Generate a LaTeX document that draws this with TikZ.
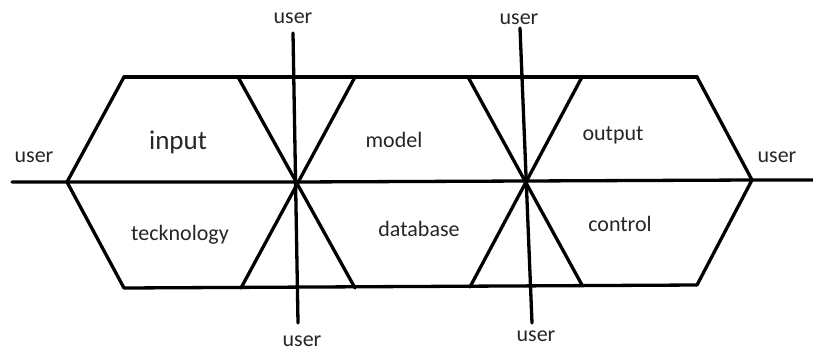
\documentclass[tikz,border=0pt]{standalone}
\usepackage{fontspec}
\setmainfont{Carlito}
\begin{document}
\begin{tikzpicture}[x=1pt,y=-1pt,
  edge/.style={line width=3.3pt, line cap=round, line join=miter},
  lbl/.style={inner sep=0pt, text=black!85, font=\fontsize{22}{24}\selectfont},
  big/.style={inner sep=0pt, text=black!85, font=\fontsize{27}{30}\selectfont}]
\useasboundingbox (0,0) rectangle (813,354);

% centre line and its crossing points
\coordinate (hl) at (12,182);
\coordinate (L)  at (67,182);
\coordinate (c1) at (296,182);
\coordinate (c2) at (525,181);
\coordinate (R)  at (752,180);
\coordinate (hr) at (813,180);

% upper and lower rails
\coordinate (t0) at (124,77);
\coordinate (t5) at (697,77);
\coordinate (b0) at (124,288);
\coordinate (b5) at (697,285);

% diagonals through the two crossings
\coordinate (x1a) at (238,77);  \coordinate (x1b) at (355,288);
\coordinate (x1c) at (241,288); \coordinate (x1d) at (355,77);
\coordinate (x2a) at (468,77);  \coordinate (x2b) at (582,285);
\coordinate (x2c) at (470,287); \coordinate (x2d) at (582,77);

% vertical user axes
\coordinate (v1a) at (293,33); \coordinate (v1b) at (298,323);
\coordinate (v2a) at (520,28); \coordinate (v2b) at (532,323);

\draw[edge] (hl) -- (L) -- (c1) -- (c2) -- (R) -- (hr);
\draw[edge] (t0) -- (t5);
\draw[edge] (b0) -- (b5);
\draw[edge] (t0) -- (L) -- (b0);
\draw[edge] (t5) -- (R) -- (b5);
\draw[edge] (x1a) -- (x1b);
\draw[edge] (x1c) -- (x1d);
\draw[edge] (x2a) -- (x2b);
\draw[edge] (x2c) -- (x2d);
\draw[edge] (v1a) -- (v1b);
\draw[edge] (v2a) -- (v2b);

% user labels
\node[lbl] (uL)  at (34,157)  {user};
\node[lbl] (uR)  at (777,157) {user};
\node[lbl] (uT1) at (293,18)  {user};
\node[lbl] (uT2) at (519,19)  {user};
\node[lbl] (uB1) at (302,341) {user};
\node[lbl] (uB2) at (536,336) {user};

% cell labels
\node[big] (input) at (178,142) {input};
\node[lbl] (tech)  at (180,235) {tecknology};
\node[lbl] (model) at (394,140) {model};
\node[lbl] (db)    at (419,229) {database};
\node[lbl] (out)   at (613,135) {output};
\node[lbl] (ctrl)  at (620,224) {control};
\end{tikzpicture}
\end{document}
